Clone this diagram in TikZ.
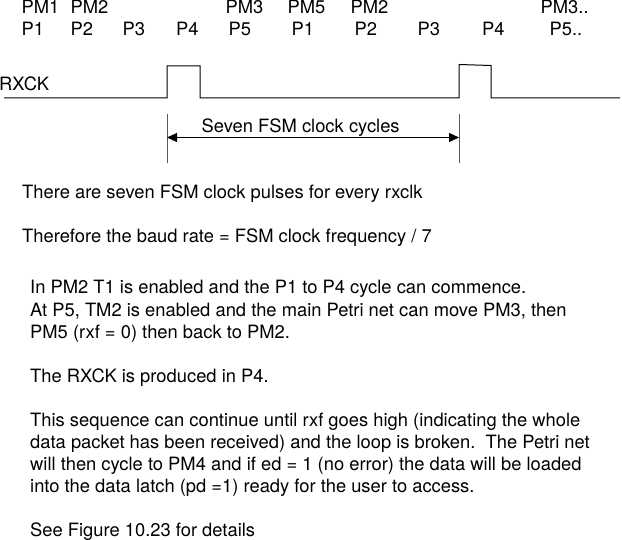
\documentclass[tikz,border=0pt]{standalone}
\usepackage{fontspec}
\setmainfont{TeX Gyre Heros}
\usetikzlibrary{arrows.meta}
\begin{document}
\begin{tikzpicture}[x=1pt,y=-1pt,
  lbl/.style={anchor=base west,inner sep=0pt,font=\fontsize{18.35}{22}\selectfont},
  wave/.style={line width=1pt,black,line join=miter},
  tickline/.style={line width=1pt,black!65},
  span/.style={line width=1pt,black,{Triangle[length=10pt,width=9pt]}-{Triangle[length=10pt,width=9pt]}}
]
\useasboundingbox (0,0) rectangle (622,540);
% phase labels
\node[lbl] (pm1) at (21.5,14) {PM1};
\node[lbl] (pm2a) at (70.5,14) {PM2};
\node[lbl] (pm3a) at (225.5,14) {PM3};
\node[lbl] (pm5) at (287.5,14) {PM5};
\node[lbl] (pm2b) at (350.5,14) {PM2};
\node[lbl] (pm3b) at (540.5,14) {PM3..};
\node[lbl] (p1a) at (21.5,36) {P1};
\node[lbl] (p2a) at (70.5,36) {P2};
\node[lbl] (p3a) at (122.5,36) {P3};
\node[lbl] (p4a) at (176,36) {P4};
\node[lbl] (p5a) at (228.5,36) {P5};
\node[lbl] (p1b) at (291.5,36) {P1};
\node[lbl] (p2b) at (354.5,36) {P2};
\node[lbl] (p3b) at (417.5,36) {P3};
\node[lbl] (p4b) at (482,36) {P4};
\node[lbl] (p5b) at (549.5,36) {P5..};
% waveform
\node[lbl] (rxck) at (-1,91) {RXCK};
\coordinate (w0) at (4,98);
\coordinate (r1) at (167,98);
\coordinate (r1t) at (167,66);
\coordinate (f1t) at (200,66);
\coordinate (f1) at (200,98);
\coordinate (r2) at (459,98);
\coordinate (r2t) at (459,64.5);
\coordinate (f2t) at (491,65.5);
\coordinate (f2) at (491,98);
\coordinate (w1) at (620,98);
\draw[wave] (w0) -- (r1) -- (r1t) -- (f1t) -- (f1) -- (r2) -- (r2t) -- (f2t) -- (f2) -- (w1);
% span markers
\coordinate (v1a) at (167,114);
\coordinate (v1b) at (167,163);
\coordinate (v2a) at (459,114);
\coordinate (v2b) at (459,163);
\draw[tickline] (v1a) -- (v1b);
\draw[tickline] (v2a) -- (v2b);
\coordinate (a1) at (167,137.5);
\coordinate (a2) at (459,137.5);
\draw[span] (a1) -- (a2);
\node[lbl] (spanlbl) at (201.5,133) {Seven FSM clock cycles};
% text
\node[lbl] (t1) at (22,198.5) {There are seven FSM clock pulses for every rxclk};
\node[lbl] (t2) at (22,242.5) {Therefore the baud rate = FSM clock frequency / 7};
\node[lbl] (t3a) at (30,294) {In PM2 T1 is enabled and the P1 to P4 cycle can commence.};
\node[lbl] (t3b) at (30,316.5) {At P5, TM2 is enabled and the main Petri net can move PM3, then};
\node[lbl] (t3c) at (30,339) {PM5 (rxf = 0) then back to PM2.};
\node[lbl] (t4) at (30,383) {The RXCK is produced in P4.};
\node[lbl] (t5a) at (30,426.5) {This sequence can continue until rxf goes high (indicating the whole};
\node[lbl] (t5b) at (30,448.5) {data packet has been received) and the loop is broken.\ \ The Petri net};
\node[lbl] (t5c) at (30,470) {will then cycle to PM4 and if ed = 1 (no error) the data will be loaded};
\node[lbl] (t5d) at (30,492) {into the data latch (pd =1) ready for the user to access.};
\node[lbl] (t6) at (30,536) {See Figure 10.23 for details};
\end{tikzpicture}
\end{document}
